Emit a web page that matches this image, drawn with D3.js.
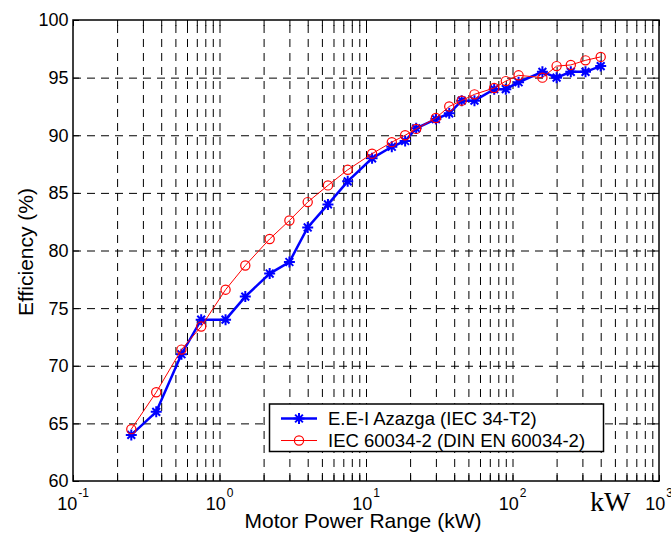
<!DOCTYPE html>
<html>
<head>
<meta charset="utf-8">
<script src="https://cdn.jsdelivr.net/npm/d3@7"></script>
<style>
  html, body { margin: 0; padding: 0; background: #fff; }
  svg { display: block; }
  text { font-family: Arial, "Liberation Sans", sans-serif; fill: #000; }
</style>
</head>
<body>
<div id="chart"></div>
<script>
// ---- Data ----
const powerKW = [0.25, 0.37, 0.55, 0.75, 1.1, 1.5, 2.2, 3, 4, 5.5, 7.5, 11, 15, 18.5, 22, 30, 37, 45, 55, 75, 90, 110, 160, 200, 250, 315, 400];
const azazgaEff = [64, 66, 71, 74, 74, 76, 78, 79, 82, 84, 86, 88, 89, 89.5, 90.6, 91.4, 91.9, 93, 93, 94, 94, 94.6, 95.5, 95, 95.5, 95.5, 96];
const iecEff = [64.5, 67.7, 71.4, 73.4, 76.6, 78.7, 81, 82.6, 84.2, 85.65, 87, 88.4, 89.4, 90.0, 90.55, 91.5, 92.5, 93.0, 93.55, 94.1, 94.7, 95.2, 95.0, 96.0, 96.1, 96.5, 96.8];
const seriesNames = ["E.E-I Azazga (IEC 34-T2)", "IEC 60034-2 (DIN EN 60034-2)"];
const xExponents = [-1, 0, 1, 2, 3];
const yTicks = [60, 65, 70, 75, 80, 85, 90, 95, 100];
const xTitle = "Motor Power Range (kW)";
const yTitle = "Efficiency (%)";
const unitNote = "kW";

// ---- Layout ----
const W = 671, H = 539;
const L = 73, R = 659, T = 20, B = 481;

const svg = d3.select("#chart").append("svg")
  .attr("width", W).attr("height", H)
  .attr("viewBox", `0 0 ${W} ${H}`);

svg.append("rect").attr("width", W).attr("height", H).attr("fill", "#fff");

const x = d3.scaleLog().domain([0.1, 1000]).range([L, R]);
const y = d3.scaleLinear().domain([60, 100]).range([B, T]);

// minor + major vertical grid values
const gridX = [];
for (let e = -1; e < 3; e++) {
  for (let m = 1; m <= 9; m++) {
    const v = m * Math.pow(10, e);
    if (v > 0.1) gridX.push(v);
  }
}
const gridY = yTicks.filter(v => v > 60 && v < 100);

const dash = "8,6";
// Vertical grid
svg.append("g").attr("transform", `translate(0,${B})`)
  .call(d3.axisBottom(x).tickValues(gridX).tickSize(-(B - T)).tickFormat(""))
  .call(g => g.select(".domain").remove())
  .call(g => g.selectAll("line").attr("stroke", "#000").attr("stroke-width", 1).attr("stroke-dasharray", dash));
// Horizontal grid
svg.append("g").attr("transform", `translate(${L},0)`)
  .call(d3.axisLeft(y).tickValues(gridY).tickSize(-(R - L)).tickFormat(""))
  .call(g => g.select(".domain").remove())
  .call(g => g.selectAll("line").attr("stroke", "#000").attr("stroke-width", 1).attr("stroke-dasharray", dash));

// Inward ticks (bottom/top minor+major, left/right major)
const tickLen = 6;
const allXTicks = gridX.concat([0.1, 1000]);
svg.append("g").attr("transform", `translate(0,${B})`)
  .call(d3.axisBottom(x).tickValues(allXTicks).tickSize(-tickLen).tickFormat(""))
  .call(g => g.select(".domain").remove());
svg.append("g").attr("transform", `translate(0,${T})`)
  .call(d3.axisTop(x).tickValues(allXTicks).tickSize(-tickLen).tickFormat(""))
  .call(g => g.select(".domain").remove());
svg.append("g").attr("transform", `translate(${L},0)`)
  .call(d3.axisLeft(y).tickValues(yTicks).tickSize(-tickLen).tickFormat(""))
  .call(g => g.select(".domain").remove());
svg.append("g").attr("transform", `translate(${R},0)`)
  .call(d3.axisRight(y).tickValues(yTicks).tickSize(-tickLen).tickFormat(""))
  .call(g => g.select(".domain").remove());

// Box
svg.append("rect").attr("x", L).attr("y", T).attr("width", R - L).attr("height", B - T)
  .attr("fill", "none").attr("stroke", "#000").attr("stroke-width", 1.5);

// Y tick labels
svg.append("g").selectAll("text").data(yTicks).join("text")
  .attr("x", L - 4.5).attr("y", d => y(d)).attr("dy", "0.36em")
  .attr("text-anchor", "end").attr("font-size", 18)
  .text(d => d);

// X tick labels with superscripts
const xl = svg.append("g").selectAll("text").data(xExponents).join("text")
  .attr("x", d => x(Math.pow(10, d))).attr("y", 510)
  .attr("text-anchor", "middle").attr("font-size", 18);
xl.append("tspan").text("10");
xl.append("tspan").attr("font-size", 12).attr("dy", -13).attr("dx", 1).text(d => d);

// Axis titles
svg.append("text").attr("x", 363).attr("y", 528).attr("text-anchor", "middle")
  .attr("font-size", 21).text(xTitle);
svg.append("text").attr("transform", `translate(33,252) rotate(-90)`)
  .attr("text-anchor", "middle").attr("font-size", 21).text(yTitle);

// kW note
svg.append("text").attr("x", 590).attr("y", 511)
  .attr("font-family", "'Liberation Serif', 'Times New Roman', serif")
  .style("font-family", "'Liberation Serif', 'Times New Roman', serif")
  .attr("font-size", 28).text(unitNote);

// ---- Series ----
const blueData = powerKW.map((p, i) => [p, azazgaEff[i]]);
const redData = powerKW.map((p, i) => [p, iecEff[i]]);
const line = d3.line().x(d => x(d[0])).y(d => y(d[1]));

function starPath(cx, cy, r) {
  const d = r * 0.7071;
  return `M${cx - r},${cy}L${cx + r},${cy}M${cx},${cy - r}L${cx},${cy + r}` +
         `M${cx - d},${cy - d}L${cx + d},${cy + d}M${cx - d},${cy + d}L${cx + d},${cy - d}`;
}

const plot = svg.append("g");
plot.append("path").datum(blueData).attr("d", line)
  .attr("fill", "none").attr("stroke", "#0000ff").attr("stroke-width", 2.5);
plot.append("g").selectAll("path").data(blueData).join("path")
  .attr("d", d => starPath(x(d[0]), y(d[1]), 5.5))
  .attr("stroke", "#0000ff").attr("stroke-width", 2).attr("fill", "none");

plot.append("path").datum(redData).attr("d", line)
  .attr("fill", "none").attr("stroke", "#ff0000").attr("stroke-width", 1);
plot.append("g").selectAll("circle").data(redData).join("circle")
  .attr("cx", d => x(d[0])).attr("cy", d => y(d[1])).attr("r", 4.6)
  .attr("fill", "none").attr("stroke", "#ff0000").attr("stroke-width", 1.2);

// ---- Legend ----
const lg = svg.append("g");
lg.append("rect").attr("x", 269.5).attr("y", 404).attr("width", 334).attr("height", 47.5)
  .attr("fill", "#fff").attr("stroke", "#000").attr("stroke-width", 1.5);
const rows = [
  { name: seriesNames[0], color: "#0000ff", w: 2.5, y: 418.5, mark: "star" },
  { name: seriesNames[1], color: "#ff0000", w: 1, y: 440.5, mark: "circle" }
];
rows.forEach(r => {
  lg.append("line").attr("x1", 281).attr("x2", 317).attr("y1", r.y).attr("y2", r.y)
    .attr("stroke", r.color).attr("stroke-width", r.w);
  if (r.mark === "star") {
    lg.append("path").attr("d", starPath(299, r.y, 5.5)).attr("stroke", r.color)
      .attr("stroke-width", 2).attr("fill", "none");
  } else {
    lg.append("circle").attr("cx", 299).attr("cy", r.y).attr("r", 4.6)
      .attr("fill", "none").attr("stroke", r.color).attr("stroke-width", 1.2);
  }
  lg.append("text").attr("x", 328).attr("y", r.y).attr("dy", "0.36em")
    .attr("font-size", 18.5).text(r.name);
});
</script>
</body>
</html>
